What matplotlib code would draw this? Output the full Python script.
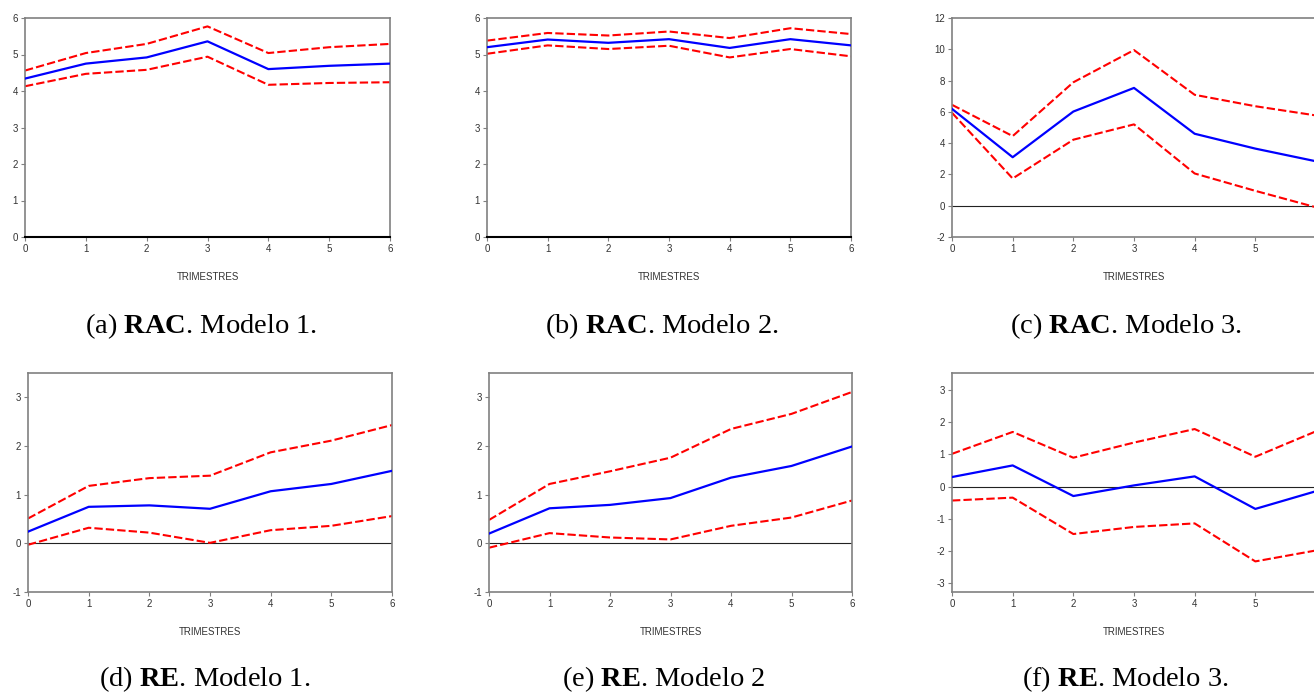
import numpy as np, matplotlib
matplotlib.use("Agg")
import matplotlib.pyplot as plt

plt.rcParams["mathtext.fontset"] = "custom"
plt.rcParams["mathtext.rm"] = "Liberation Serif"
plt.rcParams["mathtext.bf"] = "Liberation Serif:bold"
plt.rcParams["axes.unicode_minus"] = False

trimestres = [0, 1, 2, 3, 4, 5, 6]

# (a) RAC Modelo 1
rac1_mid = [4.34, 4.75, 4.92, 5.36, 4.60, 4.69, 4.75]
rac1_up  = [4.56, 5.04, 5.29, 5.77, 5.04, 5.20, 5.29]
rac1_lo  = [4.13, 4.47, 4.58, 4.94, 4.17, 4.22, 4.24]
# (b) RAC Modelo 2
rac2_mid = [5.20, 5.41, 5.32, 5.42, 5.18, 5.42, 5.25]
rac2_up  = [5.38, 5.59, 5.52, 5.63, 5.45, 5.72, 5.56]
rac2_lo  = [5.02, 5.25, 5.15, 5.24, 4.92, 5.15, 4.95]
# (c) RAC Modelo 3
rac3_mid = [6.19, 3.10, 6.02, 7.53, 4.60, 3.65, 2.84]
rac3_up  = [6.45, 4.45, 7.89, 9.95, 7.09, 6.36, 5.77]
rac3_lo  = [5.94, 1.74, 4.22, 5.20, 2.06, 0.95, -0.10]
# (d) RE Modelo 1
re1_mid = [0.24, 0.75, 0.78, 0.71, 1.07, 1.22, 1.49]
re1_up  = [0.51, 1.18, 1.34, 1.39, 1.87, 2.11, 2.43]
re1_lo  = [-0.03, 0.32, 0.22, 0.01, 0.27, 0.36, 0.56]
# (e) RE Modelo 2
re2_mid = [0.20, 0.72, 0.79, 0.93, 1.35, 1.59, 1.99]
re2_up  = [0.48, 1.22, 1.48, 1.76, 2.35, 2.66, 3.11]
re2_lo  = [-0.09, 0.21, 0.12, 0.08, 0.36, 0.53, 0.88]
# (f) RE Modelo 3
re3_mid = [0.30, 0.66, -0.29, 0.04, 0.32, -0.69, -0.14]
re3_up  = [1.02, 1.70, 0.90, 1.37, 1.79, 0.93, 1.72]
re3_lo  = [-0.43, -0.34, -1.47, -1.25, -1.14, -2.32, -1.98]

captions = [r"(a) $\mathbf{RAC}$. Modelo 1.", r"(b) $\mathbf{RAC}$. Modelo 2.",
            r"(c) $\mathbf{RAC}$. Modelo 3.", r"(d) $\mathbf{RE}$. Modelo 1.",
            r"(e) $\mathbf{RE}$. Modelo 2", r"(f) $\mathbf{RE}$. Modelo 3."]

panels = [
    (rac1_mid, rac1_up, rac1_lo, (0, 6), [0, 1, 2, 3, 4, 5, 6]),
    (rac2_mid, rac2_up, rac2_lo, (0, 6), [0, 1, 2, 3, 4, 5, 6]),
    (rac3_mid, rac3_up, rac3_lo, (-2, 12), [-2, 0, 2, 4, 6, 8, 10, 12]),
    (re1_mid, re1_up, re1_lo, (-1, 3.5), [-1, 0, 1, 2, 3]),
    (re2_mid, re2_up, re2_lo, (-1, 3.5), [-1, 0, 1, 2, 3]),
    (re3_mid, re3_up, re3_lo, (-3.27, 3.53), [-3, -2, -1, 0, 1, 2, 3]),
]

W, H = 1314, 694
# axes boxes in pixels: left, top, right, bottom
boxes = [(25, 18, 390, 237), (487, 18, 851, 237), (952, 18, 1316, 237),
         (28, 373, 392, 592), (489, 373, 852, 592), (952, 373, 1316, 592)]
cap_x = [201, 662, 1126, 205, 664, 1125]
cap_y = [326, 679]

fig = plt.figure(figsize=(W / 100, H / 100), dpi=100, facecolor="white")
for i, ((mid, up, lo, ylim, yt), (l, t, r, b)) in enumerate(zip(panels, boxes)):
    ax = fig.add_axes([l / W, (H - b) / H, (r - l) / W, (b - t) / H])
    ax.axhline(0, color="#222222", lw=0.8, zorder=1)
    ax.plot(trimestres, up, color="#FF0000", lw=1.5, dashes=(4, 1.5), zorder=2)
    ax.plot(trimestres, lo, color="#FF0000", lw=1.5, dashes=(4, 1.5), zorder=2)
    ax.plot(trimestres, mid, color="#0000FF", lw=1.6, zorder=3)
    ax.set_xlim(0, 6)
    ax.set_ylim(*ylim)
    ax.set_xticks(trimestres)
    ax.set_yticks(yt)
    ax.tick_params(direction="out", length=3, width=0.8, color="#808080",
                   labelsize=7, labelcolor="#333333", pad=2,
                   labelfontfamily="Liberation Sans")
    for sp in ax.spines.values():
        sp.set_edgecolor("#808080")
        sp.set_linewidth(1.2)
    if ylim[0] == 0:
        ax.spines["bottom"].set_edgecolor("black")
        ax.spines["bottom"].set_linewidth(1.5)
    ax.set_xlabel("TRIMESTRES", fontsize=7, color="#333333",
                  family="Liberation Sans", labelpad=13)
    row = i // 3
    fig.text(cap_x[i] / W, 1 - cap_y[row] / H, captions[i], ha="center", va="center",
             fontsize=20.5, family="Liberation Serif", color="black")

fig.savefig("out.png", dpi=100)
